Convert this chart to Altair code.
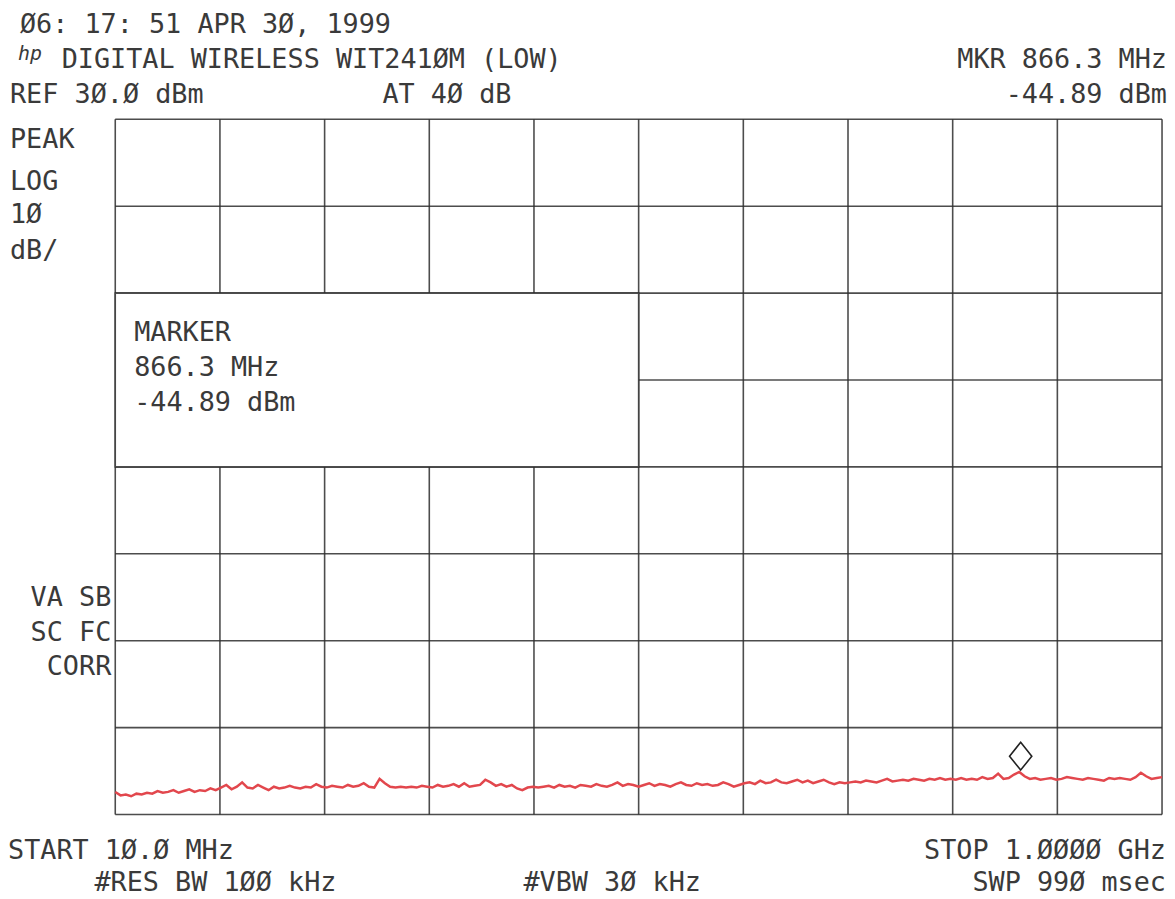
import altair as alt
import pandas as pd

# ---------------- data ----------------
sweep_freq_mhz = list(range(10, 1001, 5))  # 10 MHz .. 1000 MHz sweep points

trace_dbm = [
    -47.4, -47.8, -47.7, -47.9, -47.6, -47.7, -47.5, -47.6, -47.3, -47.5,
    -47.4, -47.2, -47.5, -47.3, -47.1, -47.4, -47.2, -47.3, -47.0, -47.2,
    -46.9, -46.6, -47.1, -46.8, -46.3, -46.9, -47.0, -46.6, -46.9, -47.2,
    -46.8, -47.0, -46.9, -46.7, -46.9, -47.0, -46.8, -46.9, -46.5, -46.8,
    -46.9, -46.7, -46.8, -46.9, -46.6, -46.8, -46.7, -46.4, -46.8, -46.9,
    -45.9, -46.4, -46.8, -46.9, -46.8, -46.9, -46.8, -46.9, -46.7, -46.8,
    -46.9, -46.6, -46.8, -46.7, -46.5, -46.8, -46.4, -46.8, -46.7, -46.6,
    -46.0, -46.3, -46.7, -46.5, -46.8, -46.6, -47.0, -47.2, -46.9, -46.8,
    -46.9, -46.8, -46.7, -46.9, -46.6, -46.8, -46.7, -46.9, -46.6, -46.7,
    -46.8, -46.5, -46.7, -46.8, -46.6, -46.3, -46.7, -46.5, -46.6, -46.8,
    -46.6, -46.4, -46.7, -46.5, -46.6, -46.8, -46.5, -46.3, -46.6, -46.7,
    -46.4, -46.6, -46.5, -46.7, -46.6, -46.3, -46.5, -46.8, -46.6, -46.4,
    -46.3, -46.5, -46.1, -46.4, -46.3, -46.0, -46.3, -46.4, -46.2, -46.0,
    -46.3, -46.1, -46.4, -46.2, -46.0, -46.3, -46.5, -46.3, -46.4, -46.3,
    -46.2, -46.3, -46.1, -46.2, -46.3, -46.1, -45.9, -46.2, -46.1, -46.0,
    -46.1, -45.9, -46.0, -46.1, -45.9, -46.0, -45.8, -46.0, -45.9, -46.0,
    -45.8, -46.0, -45.9, -46.0, -45.7, -45.9, -45.8, -45.3, -45.9, -45.8,
    -45.4, -45.1, -45.6, -45.9, -45.8, -46.0, -45.9, -45.8, -46.0, -45.9,
    -45.7, -45.8, -45.9, -46.0, -45.8, -45.9, -46.0, -46.1, -45.8, -45.9,
    -45.8, -45.9, -46.0, -45.7, -45.2, -45.6, -45.9, -45.8, -45.7,
]

grid_freq_mhz = [10, 109, 208, 307, 406, 505, 604, 703, 802, 901, 1000]
grid_dbm = [30, 20, 10, 0, -10, -20, -30, -40, -50]

marker_freq_mhz = [866.3]
marker_dbm = [-44.89]

marker_box_freq = [10, 505]
marker_box_dbm = [-10, 10]

header_texts = ["Ø6: 17: 51 APR 3Ø, 1999", "DIGITAL WIRELESS WIT241ØM (LOW)",
                "MKR 866.3 MHz", "REF 3Ø.Ø dBm", "AT 4Ø dB", "-44.89 dBm"]
logo_text = ["hp"]
left_texts = ["PEAK", "LOG", "1Ø", "dB/"]
left_lower_texts = ["VA SB", "SC FC", "CORR"]
marker_box_texts = ["MARKER", "866.3 MHz", "-44.89 dBm"]
footer_texts = ["START 1Ø.Ø MHz", "STOP 1.ØØØØ GHz",
                "#RES BW 1ØØ kHz", "#VBW 3Ø kHz", "SWP 99Ø msec"]

# ---------------- styling ----------------
FONT = "DejaVu Sans Mono"
FS = 27
TXT = "#3a3a3a"
GRID = "#2e2e2e"
TRACE = "#e2474d"

W, H = 1054, 700
xs = alt.Scale(domain=[10, 1000], nice=False, zero=False)
ys = alt.Scale(domain=[-50, 30], nice=False, zero=False)

trace_df = pd.DataFrame({"f": sweep_freq_mhz, "p": trace_dbm})
vgrid = alt.Chart(pd.DataFrame({"f": grid_freq_mhz})).mark_rule(
    color=GRID, strokeWidth=1.6, opacity=0.85
).encode(x=alt.X("f:Q", scale=xs, axis=None))
hgrid = alt.Chart(pd.DataFrame({"p": grid_dbm})).mark_rule(
    color=GRID, strokeWidth=1.6, opacity=0.85
).encode(y=alt.Y("p:Q", scale=ys, axis=None))

box = alt.Chart(pd.DataFrame({
    "f1": [marker_box_freq[0]], "f2": [marker_box_freq[1]],
    "p1": [marker_box_dbm[0]], "p2": [marker_box_dbm[1]],
})).mark_rect(fill="white", stroke=GRID, strokeWidth=1.6, strokeOpacity=0.85).encode(
    x=alt.X("f1:Q", scale=xs, axis=None), x2="f2:Q",
    y=alt.Y("p1:Q", scale=ys, axis=None), y2="p2:Q",
)

trace = alt.Chart(trace_df).mark_line(color=TRACE, strokeWidth=2.5).encode(
    x=alt.X("f:Q", scale=xs, axis=None),
    y=alt.Y("p:Q", scale=ys, axis=None),
)

diamond = alt.Chart(pd.DataFrame({"f": marker_freq_mhz, "p": marker_dbm})).mark_point(
    shape="M0,-1L0.8,0L0,1L-0.8,0Z", size=784, filled=False,
    color="#222222", strokeWidth=1.6, yOffset=-14, opacity=1,
).encode(
    x=alt.X("f:Q", scale=xs, axis=None),
    y=alt.Y("p:Q", scale=ys, axis=None),
)


def label(text, x, y, align="left", size=FS, style="normal"):
    return alt.Chart(pd.DataFrame({"t": [text]})).mark_text(
        align=align, baseline="alphabetic", font=FONT, fontSize=size,
        color=TXT, fontStyle=style,
    ).encode(x=alt.value(x), y=alt.value(y), text="t:N")


labels = [
    label(header_texts[0], -96, -87),
    label(logo_text[0], -98, -60, size=20, style="italic"),
    label(header_texts[1], -54, -52),
    label(header_texts[2], W + 5, -52, align="right"),
    label(header_texts[3], -106, -16),
    label(header_texts[4], 269, -16),
    label(header_texts[5], W + 5, -16, align="right"),
    label(left_texts[0], -106, 29),
    label(left_texts[1], -106, 71),
    label(left_texts[2], -106, 104),
    label(left_texts[3], -106, 141),
    label(marker_box_texts[0], 19, 223),
    label(marker_box_texts[1], 19, 258),
    label(marker_box_texts[2], 19, 294),
    label(left_lower_texts[0], -4, 490, align="right"),
    label(left_lower_texts[1], -4, 525, align="right"),
    label(left_lower_texts[2], -4, 560, align="right"),
    label(footer_texts[0], -108, 745),
    label(footer_texts[1], W + 4, 745, align="right"),
    label(footer_texts[2], -21, 777),
    label(footer_texts[3], 411, 777),
    label(footer_texts[4], W + 4, 777, align="right"),
]

chart = alt.layer(vgrid, hgrid, box, trace, diamond, *labels).properties(
    width=W, height=H,
    padding={"left": 108, "top": 109, "right": 5, "bottom": 82},
    autosize=alt.AutoSizeParams(type="none"),
    background="white",
).configure_view(stroke=None)

chart.save("out.html", embed_options={"renderer": "svg", "actions": False})
